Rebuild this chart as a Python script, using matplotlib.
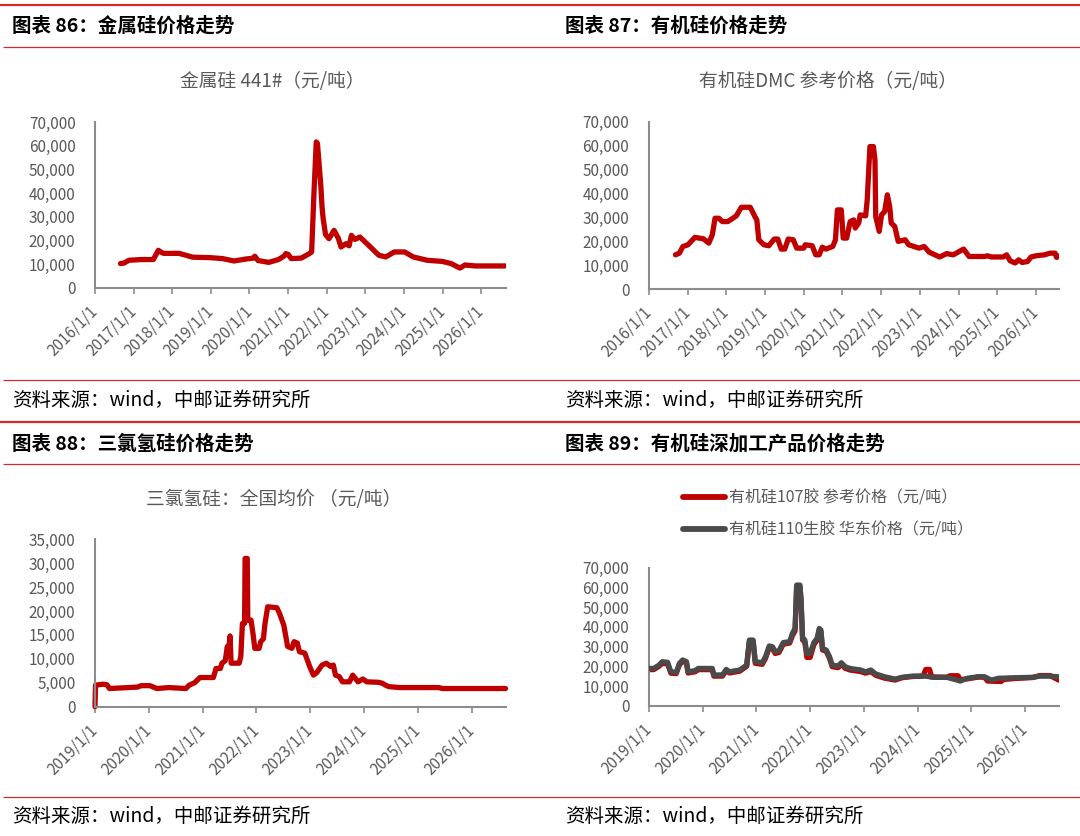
import matplotlib
matplotlib.use("Agg")
import matplotlib.pyplot as plt
from matplotlib.lines import Line2D

plt.rcParams['font.family'] = ['Noto Sans CJK SC', 'DejaVu Sans']

# ---------------- data (x = decimal year) ----------------
si_t = [2016.66, 2016.75, 2016.88, 2017.20, 2017.51, 2017.64, 2017.72, 2017.78, 2018.18, 2018.53,
        2018.98, 2019.30, 2019.60, 2019.90, 2020.10, 2020.14, 2020.22, 2020.50, 2020.75, 2020.90,
        2020.94, 2021.00, 2021.08, 2021.34, 2021.55, 2021.61, 2021.67, 2021.73, 2021.76, 2021.79,
        2021.85, 2021.88, 2021.91, 2021.97, 2022.06, 2022.19, 2022.30, 2022.37, 2022.50, 2022.58,
        2022.64, 2022.73, 2022.86, 2023.13, 2023.35, 2023.53, 2023.75, 2024.02, 2024.24, 2024.60,
        2025.00, 2025.22, 2025.45, 2025.58, 2025.85, 2026.62]
si_v = [10300, 10500, 11700, 12000, 12000, 15900, 15000, 14600, 14600, 13000,
        12800, 12400, 11400, 12200, 12600, 13400, 11600, 10800, 12000, 13500,
        14500, 14200, 12400, 12600, 14500, 15200, 40000, 61600, 61000, 55000,
        42600, 34000, 29000, 22500, 20800, 24300, 21000, 17300, 18700, 17800,
        22200, 20500, 21500, 17300, 13800, 13100, 15200, 15200, 13100, 11700,
        11200, 10300, 8400, 9700, 9300, 9300]

dmc_t = [2016.69, 2016.79, 2016.88, 2017.01, 2017.19, 2017.41, 2017.55, 2017.64, 2017.71, 2017.81,
         2017.90, 2018.04, 2018.17, 2018.26, 2018.39, 2018.62, 2018.75, 2018.79, 2018.84, 2018.97,
         2019.10, 2019.24, 2019.33, 2019.42, 2019.51, 2019.60, 2019.73, 2019.82, 2020.00, 2020.04,
         2020.22, 2020.31, 2020.40, 2020.48, 2020.57, 2020.75, 2020.82, 2020.87, 2020.97, 2021.02,
         2021.11, 2021.20, 2021.29, 2021.33, 2021.42, 2021.46, 2021.60, 2021.64, 2021.71, 2021.80,
         2021.84, 2021.86, 2021.95, 2022.01, 2022.09, 2022.16, 2022.22, 2022.26, 2022.35, 2022.44,
         2022.62, 2022.71, 2022.98, 2023.11, 2023.24, 2023.51, 2023.69, 2023.86, 2024.13, 2024.27,
         2024.67, 2024.75, 2024.84, 2025.15, 2025.24, 2025.33, 2025.46, 2025.55, 2025.64, 2025.78,
         2025.87, 2026.00, 2026.22, 2026.36, 2026.49, 2026.53, 2026.60]
dmc_v = [14300, 15000, 17800, 18500, 21600, 21000, 19200, 22700, 29600, 29600,
         28200, 28200, 29600, 30600, 34200, 34200, 30000, 28900, 20600, 18500,
         18100, 20900, 20900, 16700, 16700, 20900, 20600, 17100, 17100, 18500,
         18100, 14300, 14300, 17500, 16700, 17800, 20600, 33100, 33100, 21300,
         21300, 28200, 28900, 25500, 27600, 31000, 30600, 37300, 59600, 59600,
         54000, 30300, 24100, 31000, 32400, 39400, 34500, 27600, 26200, 19900,
         20600, 18500, 17100, 17800, 15400, 13400, 14800, 14300, 16700, 13600,
         13600, 13900, 13400, 13400, 14300, 11800, 10900, 12200, 11100, 11500,
         13400, 13900, 14300, 15000, 15000, 13200, 13900]

tcs_t = [2019.00, 2019.01, 2019.15, 2019.22, 2019.27, 2019.79, 2019.86, 2020.02, 2020.15, 2020.37,
         2020.69, 2020.75, 2020.85, 2020.95, 2021.20, 2021.25, 2021.33, 2021.36, 2021.42, 2021.46,
         2021.48, 2021.51, 2021.53, 2021.68, 2021.71, 2021.74, 2021.78, 2021.79, 2021.83, 2021.84,
         2021.90, 2021.94, 2021.97, 2022.05, 2022.08, 2022.13, 2022.16, 2022.21, 2022.38, 2022.43,
         2022.51, 2022.58, 2022.66, 2022.70, 2022.76, 2022.80, 2022.90, 2022.99, 2023.06, 2023.12,
         2023.22, 2023.30, 2023.38, 2023.43, 2023.47, 2023.54, 2023.60, 2023.73, 2023.79, 2023.89,
         2023.98, 2024.05, 2024.27, 2024.34, 2024.40, 2024.46, 2024.66, 2025.39, 2025.46, 2026.63]
tcs_v = [0, 4500, 4700, 4600, 3800, 4100, 4400, 4400, 3800, 4000,
         3800, 4500, 5000, 6100, 6100, 8000, 8000, 9100, 9600, 12600,
         11200, 14800, 9100, 9100, 10500, 17400, 17400, 31000, 31000, 18100,
         18100, 15000, 12200, 12200, 13600, 14200, 17400, 20900, 20700, 19500,
         17000, 12600, 12200, 13600, 13300, 11500, 11200, 8400, 6600, 7100,
         8700, 9100, 8400, 8700, 6600, 6300, 5200, 5200, 6600, 5200,
         5800, 5200, 5100, 4900, 4500, 4200, 4000, 4000, 3800, 3800]

g110_t = [2019.00, 2019.09, 2019.19, 2019.25, 2019.35, 2019.41, 2019.51, 2019.57, 2019.63, 2019.70,
          2019.73, 2019.86, 2019.92, 2020.12, 2020.18, 2020.21, 2020.37, 2020.44, 2020.50, 2020.69,
          2020.82, 2020.87, 2020.94, 2020.98, 2021.11, 2021.17, 2021.24, 2021.30, 2021.35, 2021.42,
          2021.50, 2021.62, 2021.67, 2021.72, 2021.75, 2021.81, 2021.83, 2021.86, 2021.90, 2021.94,
          2022.00, 2022.07, 2022.13, 2022.17, 2022.20, 2022.23, 2022.30, 2022.36, 2022.41, 2022.52,
          2022.58, 2022.65, 2022.74, 2022.94, 2023.03, 2023.13, 2023.22, 2023.38, 2023.58, 2023.71,
          2023.90, 2024.15, 2024.28, 2024.54, 2024.73, 2024.79, 2024.92, 2025.12, 2025.24, 2025.37,
          2025.50, 2025.82, 2026.14, 2026.27, 2026.46, 2026.59, 2026.62]
g110_v = [18900, 18900, 20600, 22300, 22000, 17200, 16900, 21500, 23200, 22300,
          17200, 17800, 18900, 18900, 18900, 15600, 15600, 18400, 17200, 18100,
          20600, 33300, 33300, 22300, 21800, 24900, 30300, 29900, 27400, 27900,
          32000, 32500, 36700, 39200, 61200, 61200, 54400, 34200, 33300, 26500,
          26500, 32000, 34200, 39200, 38400, 29100, 28200, 24900, 20600, 20100,
          21800, 19800, 18900, 18100, 17200, 18100, 16100, 14700, 13500, 14400,
          15000, 15000, 14400, 14400, 13000, 12500, 13900, 14700, 14700, 13000,
          13900, 14200, 14400, 15000, 15000, 14700, 14700]

r107_t = [2019.00, 2019.09, 2019.19, 2019.25, 2019.35, 2019.41, 2019.51, 2019.57, 2019.63, 2019.70,
          2019.73, 2019.86, 2019.92, 2020.12, 2020.18, 2020.21, 2020.37, 2020.44, 2020.50, 2020.69,
          2020.82, 2020.87, 2020.94, 2020.98, 2021.11, 2021.17, 2021.24, 2021.30, 2021.35, 2021.42,
          2021.50, 2021.62, 2021.67, 2021.72, 2021.75, 2021.81, 2021.83, 2021.86, 2021.90, 2021.94,
          2022.00, 2022.07, 2022.13, 2022.17, 2022.20, 2022.23, 2022.30, 2022.36, 2022.41, 2022.52,
          2022.58, 2022.65, 2022.74, 2022.94, 2023.03, 2023.13, 2023.22, 2023.38, 2023.58, 2023.71,
          2023.90, 2024.10, 2024.15, 2024.22, 2024.26, 2024.54, 2024.60, 2024.75, 2024.79, 2024.92,
          2025.12, 2025.24, 2025.30, 2025.55, 2025.60, 2025.82, 2026.14, 2026.27, 2026.46, 2026.55,
          2026.62]
r107_v = [18300, 18300, 20000, 21500, 21200, 16500, 16300, 20800, 22500, 21800,
          16600, 17200, 18300, 18300, 18300, 15000, 15000, 17800, 16600, 17500,
          20000, 32500, 32500, 21500, 21000, 24000, 29500, 29000, 26500, 27000,
          31200, 31800, 35500, 38000, 60500, 60500, 53500, 33300, 32500, 24500,
          24500, 31000, 33300, 38400, 37600, 28300, 27500, 24000, 19800, 19300,
          21000, 19000, 18100, 17300, 16500, 17300, 15400, 14000, 13000, 14200,
          14800, 15000, 18400, 18400, 14600, 14400, 15200, 15200, 13200, 13600,
          14500, 14500, 12500, 12300, 13300, 13800, 14300, 15300, 15300, 14000,
          13000]

years_top = list(range(2016, 2027))
years_bot = list(range(2019, 2027))
year_labels_top = [f"{y}/1/1" for y in years_top]
year_labels_bot = [f"{y}/1/1" for y in years_bot]

headers = ["图表 86：金属硅价格走势", "图表 87：有机硅价格走势",
           "图表 88：三氯氢硅价格走势", "图表 89：有机硅深加工产品价格走势"]
titles = ["金属硅 441#（元/吨）", "有机硅DMC 参考价格（元/吨）", "三氯氢硅：全国均价 （元/吨）"]
legend_labels = ["有机硅107胶 参考价格（元/吨）", "有机硅110生胶 华东价格（元/吨）"]
source = "资料来源：wind，中邮证券研究所"

# ---------------- figure ----------------
W, H = 1080, 836
fig = plt.figure(figsize=(W / 100, H / 100), dpi=100)
fig.patch.set_facecolor('white')

RED = '#C00000'
GREY_LINE = '#4A4A4A'
TXT = '#595959'
DECO = '#D42A2E'
SPINE = '#8C8C8C'
LW = 3.8


def fx(x):
    return x / W


def fy(y):
    return 1 - y / H


def hline(y, x0, x1, lw):
    fig.add_artist(Line2D([fx(x0), fx(x1)], [fy(y), fy(y)], transform=fig.transFigure,
                          color=DECO, lw=lw, solid_capstyle='butt'))


for top, mid, bot in [(4.5, 46.5, 379.5), (421.5, 463.5, 797.0)]:
    hline(top, 0, W, 1.6)
    hline(mid, 3, W, 0.9)
    hline(bot, 3, W, 0.9)

for (x, y), t in zip([(12, 26), (565, 26), (12, 444), (565, 444)], headers):
    fig.text(fx(x), fy(y), t, fontsize=14, fontweight='bold', color='black',
             ha='left', va='center')
for (x, y) in [(12, 400), (565, 400), (12, 816), (565, 816)]:
    fig.text(fx(x), fy(y), source, fontsize=14, color='black', ha='left', va='center')

for (x, y), t in zip([(272, 81), (828, 81), (274, 499)], titles):
    fig.text(fx(x), fy(y), t, fontsize=13.5, color=TXT, ha='center', va='center')


def make_axes(l, r, t, b):
    return fig.add_axes([fx(l), fy(b), (r - l) / W, (b - t) / H])


def style(ax, xmin, xmax, ymax, ystep, years, labels):
    ax.set_xlim(xmin, xmax)
    ax.set_ylim(0, ymax)
    ax.set_xticks(years)
    ax.set_xticklabels(labels, rotation=45, ha='right', va='center',
                       rotation_mode='anchor', fontsize=11, color=TXT)
    yt = list(range(0, ymax + 1, ystep))
    ax.set_yticks(yt)
    ax.set_yticklabels([f"{v:,}" for v in yt], fontsize=11, color=TXT)
    for s in ['top', 'right']:
        ax.spines[s].set_visible(False)
    for s in ['left', 'bottom']:
        ax.spines[s].set_color(SPINE)
        ax.spines[s].set_linewidth(1.5)
    ax.tick_params(axis='x', length=4, width=1.2, color=SPINE, pad=11)
    ax.tick_params(axis='y', length=0, pad=14)
    ax.set_facecolor('none')


ax1 = make_axes(95.0, 505.5, 122.0, 288.0)
ax1.plot(si_t, si_v, color=RED, lw=LW, solid_joinstyle='round', solid_capstyle='round')
style(ax1, 2016, 2026.63, 70000, 10000, years_top, year_labels_top)

ax2 = make_axes(648.8, 1059.3, 121.7, 289.0)
ax2.plot(dmc_t, dmc_v, color=RED, lw=LW, solid_joinstyle='round', solid_capstyle='round')
style(ax2, 2016, 2026.6, 70000, 10000, years_top, year_labels_top)

ax3 = make_axes(95.0, 505.5, 539.3, 706.7)
ax3.plot(tcs_t, tcs_v, color=RED, lw=LW, solid_joinstyle='round', solid_capstyle='round',
         clip_on=False)
style(ax3, 2019, 2026.63, 35000, 5000, years_bot, year_labels_bot)

ax4 = make_axes(648.8, 1058.6, 567.7, 705.7)
l1, = ax4.plot(r107_t, r107_v, color=RED, lw=LW, solid_joinstyle='round', solid_capstyle='round',
               zorder=2)
l2, = ax4.plot(g110_t, g110_v, color=GREY_LINE, lw=LW, solid_joinstyle='round',
               solid_capstyle='round', zorder=3)
style(ax4, 2019, 2026.62, 70000, 10000, years_bot, year_labels_bot)

leg = fig.legend([l1, l2], legend_labels, loc='center left',
                 bbox_to_anchor=(fx(683), fy(514)), bbox_transform=fig.transFigure,
                 frameon=False, fontsize=11.5, handlelength=2.65, handletextpad=0.25,
                 labelspacing=0.95, borderpad=0, borderaxespad=0)
for t in leg.get_texts():
    t.set_color(TXT)
for h in leg.legend_handles:
    h.set_linewidth(4.2)

fig.savefig("out.png", dpi=100, facecolor='white')
